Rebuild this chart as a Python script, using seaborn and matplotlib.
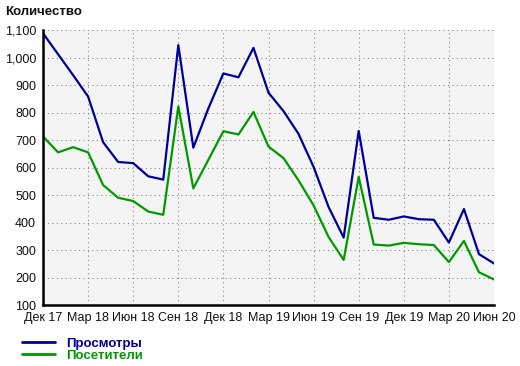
import matplotlib
matplotlib.use("Agg")
import matplotlib.pyplot as plt
import numpy as np
import pandas as pd
import seaborn as sns
from matplotlib.ticker import FuncFormatter, MultipleLocator, FixedLocator

# ---- data (monthly, Dec 2017 .. Jun 2020) ----
views = [1088, 1012, 936, 858, 692, 620, 616, 568, 556, 1045, 672, 815,
         942, 928, 1035, 872, 805, 722, 602, 456, 345, 733, 417, 410,
         422, 412, 410, 327, 449, 285, 251]
visitors = [713, 655, 674, 655, 536, 490, 478, 440, 428, 822, 524, 628,
            732, 720, 802, 676, 634, 553, 462, 347, 264, 566, 320, 316,
            326, 321, 318, 256, 333, 219, 193]
tick_labels = ["Дек 17", "Мар 18", "Июн 18", "Сен 18", "Дек 18", "Мар 19",
               "Июн 19", "Сен 19", "Дек 19", "Мар 20", "Июн 20"]
series_names = ["Просмотры", "Посетители"]
series_colors = ["#000099", "#009900"]
y_title = "Количество"

month_idx = list(range(len(views)))
df = pd.DataFrame({
    "month": month_idx * 2,
    "value": views + visitors,
    "series": [series_names[0]] * len(views) + [series_names[1]] * len(visitors),
})

sns.set_theme(style="white")
plt.rcParams["font.family"] = ["Liberation Sans", "DejaVu Sans"]

fig = plt.figure(figsize=(5.2, 3.66), dpi=100)
ax = fig.add_axes([43 / 520, 1 - 305 / 366, (494 - 43) / 520, (305 - 30) / 366])
ax.set_facecolor("#f4f4f4")

sns.lineplot(data=df, x="month", y="value", hue="series",
             palette=dict(zip(series_names, series_colors)),
             linewidth=1.6, ax=ax, legend=True)

ax.set_xlim(0, len(views) - 1)
ax.set_ylim(100, 1100)
ax.xaxis.set_major_locator(FixedLocator(range(0, len(views), 3)))
ax.set_xticklabels(tick_labels)
ax.yaxis.set_major_locator(MultipleLocator(100))
ax.yaxis.set_major_formatter(FuncFormatter(lambda v, p: f"{int(v):,}"))
ax.set_xlabel("")
ax.set_ylabel("")

ax.grid(True, color="#888888", linestyle=(0, (1, 3)), linewidth=0.8)
ax.set_axisbelow(True)

for s in ["top", "right"]:
    ax.spines[s].set_visible(False)
for s in ["left", "bottom"]:
    ax.spines[s].set_color("black")
    ax.spines[s].set_linewidth(1.8)

ax.tick_params(axis="both", which="major", direction="out", length=3, width=1,
               color="black", labelsize=9, labelcolor="#111111", pad=2)

fig.text(5 / 520, 1 - 12 / 366, y_title, fontsize=9.5, fontweight="bold",
         ha="left", va="center", color="#111111")

leg = ax.legend(loc="upper left", bbox_to_anchor=(17 / 520, 1 - 332 / 366),
                bbox_transform=fig.transFigure, frameon=False,
                prop={"weight": "bold", "size": 9.5}, handlelength=2.5,
                handletextpad=0.8, labelspacing=0.0, borderaxespad=0)
for txt, col in zip(leg.get_texts(), series_colors):
    txt.set_color(col)
for line in leg.get_lines():
    line.set_linewidth(2)

fig.savefig("out.png", dpi=100)
